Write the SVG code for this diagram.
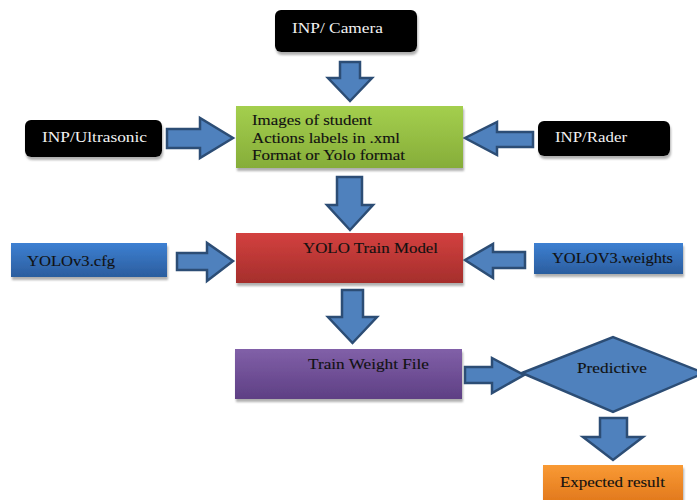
<svg xmlns="http://www.w3.org/2000/svg" width="697" height="500" viewBox="0 0 697 500" font-family="'Liberation Serif', 'DejaVu Serif', serif">
  <defs>
    <linearGradient id="gGreen" x1="0" y1="0" x2="0" y2="1">
      <stop offset="0" stop-color="#a4cf4e"/>
      <stop offset="1" stop-color="#86ad39"/>
    </linearGradient>
    <linearGradient id="gRed" x1="0" y1="0" x2="0" y2="1">
      <stop offset="0" stop-color="#d3413f"/>
      <stop offset="1" stop-color="#a52e2c"/>
    </linearGradient>
    <linearGradient id="gPurple" x1="0" y1="0" x2="0" y2="1">
      <stop offset="0" stop-color="#8160a8"/>
      <stop offset="1" stop-color="#5e3f84"/>
    </linearGradient>
    <linearGradient id="gBlue" x1="0" y1="0" x2="0" y2="1">
      <stop offset="0" stop-color="#3d80d2"/>
      <stop offset="1" stop-color="#2b5d9e"/>
    </linearGradient>
    <linearGradient id="gOrange" x1="0" y1="0" x2="0" y2="1">
      <stop offset="0" stop-color="#f99a34"/>
      <stop offset="1" stop-color="#e0761b"/>
    </linearGradient>
    <filter id="shadow" x="-10%" y="-20%" width="120%" height="150%">
      <feDropShadow dx="1" dy="3" stdDeviation="1.2" flood-color="#7a7a7a" flood-opacity="0.6"/>
    </filter>
  </defs>
  <style>
    text { font-family: "Liberation Serif", "DejaVu Serif", serif; }
    .lbl { font-size: 15px; fill: #111; stroke: #111; stroke-width: 0.12; }
    .inv { font-size: 14px; fill: #f2f2f2; }
    .blk { fill: #000; filter: url(#shadow); }
    .box { filter: url(#shadow); }
    .arrow { fill: #4f81bd; stroke: #2c4d75; stroke-width: 2.5; stroke-linejoin: miter; }
  </style>

  <rect width="697" height="500" fill="#ffffff"/>

  <!-- block arrows -->
  <g id="connectors">
    <polygon class="arrow" points="340,62 360,62 360,78 372,78 350,101 328,78 340,78"/>
    <polygon class="arrow" points="337,177 362,177 362,205 373,205 350,230 327,205 337,205"/>
    <polygon class="arrow" points="342,290 363,290 363,317 377,317 352.5,343 328,317 342,317"/>
    <polygon class="arrow" points="600,418 627,418 627,437 643,437 613,460 583,437 600,437"/>
    <polygon class="arrow" points="167,129 200,129 200,118 233,138 200,158 200,148 167,148"/>
    <polygon class="arrow" points="177,253 207,253 207,243 233,261 207,281 207,270 177,270"/>
    <polygon class="arrow" points="465,367 492,367 492,358 524,375 492,393 492,383 465,383"/>
    <polygon class="arrow" points="533,132 497,132 497,122 465,138 497,155 497,147 533,147"/>
    <polygon class="arrow" points="525,252 493,252 493,244 465,260 493,278 493,268 525,268"/>
  </g>

  <g id="camera">
    <rect class="blk" x="275" y="10" width="142" height="42" rx="6"/>
    <text class="inv" x="292" y="33" textLength="91" lengthAdjust="spacingAndGlyphs">INP/ Camera</text>
  </g>

  <g id="ultrasonic">
    <rect class="blk" x="25" y="120" width="137" height="37" rx="6"/>
    <text class="inv" x="42" y="142" textLength="105" lengthAdjust="spacingAndGlyphs">INP/Ultrasonic</text>
  </g>

  <g id="rader">
    <rect class="blk" x="538" y="121" width="132" height="35" rx="6"/>
    <text class="inv" x="555" y="142" textLength="72" lengthAdjust="spacingAndGlyphs">INP/Rader</text>
  </g>

  <g id="dataset">
    <rect class="box" x="236" y="106" width="227" height="62" fill="url(#gGreen)"/>
    <text class="lbl" x="252" y="125" textLength="120" lengthAdjust="spacingAndGlyphs">Images of student</text>
    <text class="lbl" x="252" y="143" textLength="148" lengthAdjust="spacingAndGlyphs">Actions labels in .xml</text>
    <text class="lbl" x="252" y="160" textLength="153" lengthAdjust="spacingAndGlyphs">Format or Yolo format</text>
  </g>

  <g id="cfg">
    <rect class="box" x="11" y="243" width="156" height="34" fill="url(#gBlue)"/>
    <text class="lbl" x="27" y="266" textLength="88" lengthAdjust="spacingAndGlyphs">YOLOv3.cfg</text>
  </g>

  <g id="weights">
    <rect class="box" x="534" y="243" width="149" height="31" fill="url(#gBlue)"/>
    <text class="lbl" x="552" y="263" textLength="121" lengthAdjust="spacingAndGlyphs">YOLOV3.weights</text>
  </g>

  <g id="train-model">
    <rect class="box" x="236" y="233" width="227" height="50" fill="url(#gRed)"/>
    <text class="lbl" x="303" y="253" textLength="135" lengthAdjust="spacingAndGlyphs">YOLO Train Model</text>
  </g>

  <g id="weight-file">
    <rect class="box" x="235" y="349" width="227" height="50" fill="url(#gPurple)"/>
    <text class="lbl" x="308" y="369" textLength="121" lengthAdjust="spacingAndGlyphs">Train Weight File</text>
  </g>

  <g id="predictive">
    <polygon points="522,373 613,337 704,373 613,412" fill="#4f81bd" stroke="#2c4d75" stroke-width="2.5"/>
    <text class="lbl" x="577" y="373" textLength="70" lengthAdjust="spacingAndGlyphs">Predictive</text>
  </g>

  <g id="result">
    <rect class="box" x="543" y="465" width="140" height="40" fill="url(#gOrange)"/>
    <text class="lbl" x="560" y="487" textLength="105" lengthAdjust="spacingAndGlyphs">Expected result</text>
  </g>
</svg>
